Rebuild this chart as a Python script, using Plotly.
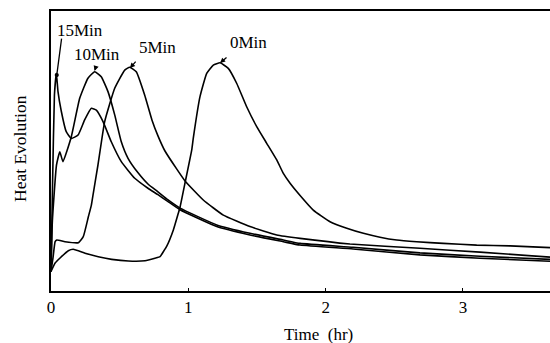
import plotly.graph_objects as go

# Time (hr) and heat evolution (arbitrary units, 0-100)
t_0min = [0.0, 0.03, 0.066, 0.126, 0.162, 0.248, 0.344, 0.442, 0.563, 0.685, 0.757, 0.794, 0.818, 0.843,
          0.891, 0.927, 0.94, 0.976, 1.025, 1.036, 1.085, 1.134, 1.182, 1.231, 1.291, 1.352, 1.425, 1.498,
          1.571, 1.644, 1.692, 1.741, 1.814, 1.91, 2.032, 2.154, 2.275, 2.396, 2.518, 2.663, 2.857, 3.1,
          3.343, 3.634]
h_0min = [7.0, 10.0, 11.8, 14.4, 14.9, 13.5, 12.25, 11.3, 10.7, 10.8, 11.7, 12.25, 14.0, 16.0,
          21.8, 27.75, 30.0, 38.6, 50.4, 54.5, 69.4, 77.75, 80.7, 81.5, 79.5, 74.2, 65.8, 58.7,
          52.75, 46.8, 42.0, 38.5, 34.1, 28.9, 24.75, 22.4, 20.6, 19.2, 18.2, 17.6, 17.0, 16.4,
          16.1, 15.5]

t_5min = [0.0, 0.015, 0.03, 0.042, 0.102, 0.199, 0.235, 0.272, 0.294, 0.308, 0.342, 0.391, 0.464,
          0.537, 0.573, 0.621, 0.682, 0.735, 0.779, 0.83, 0.915, 0.976, 1.109, 1.255, 1.449, 1.644,
          1.814, 2.177, 2.687, 3.124, 3.634]
h_5min = [7.0, 12.0, 17.6, 18.2, 17.6, 17.25, 19.4, 26.5, 30.7, 34.9, 45.0, 60.5, 72.4,
          78.9, 79.9, 78.3, 70.0, 61.1, 55.4, 50.0, 43.6, 39.3, 32.5, 27.1, 23.0, 20.0,
          18.8, 16.8, 15.25, 13.9, 12.1]

t_10min = [0.0, 0.01, 0.04, 0.064, 0.087, 0.148, 0.209, 0.269, 0.318, 0.366, 0.415, 0.464, 0.512,
           0.561, 0.634, 0.706, 0.779, 0.85, 0.94, 1.207, 1.449, 1.692, 1.814, 2.2, 2.687, 3.124, 3.634]
h_10min = [7.0, 25.0, 45.0, 49.75, 46.2, 55.1, 68.8, 76.0, 78.3, 76.5, 71.2, 62.9, 53.3,
           47.4, 42.2, 38.2, 35.4, 32.6, 29.6, 23.6, 20.6, 18.2, 17.0, 15.6, 13.6, 12.4, 11.3]

t_15min = [0.0, 0.012, 0.025, 0.039, 0.051, 0.075, 0.111, 0.148, 0.197, 0.245, 0.294, 0.33, 0.379,
           0.439, 0.512, 0.61, 0.706, 0.779, 0.85, 0.94, 1.207, 1.449, 1.692, 1.814, 2.2, 2.687, 3.124, 3.634]
h_15min = [7.0, 40.0, 70.0, 77.75, 71.2, 64.2, 56.9, 54.5, 55.7, 61.1, 65.25, 64.6, 60.5,
           53.3, 46.2, 40.25, 36.7, 34.4, 32.0, 29.0, 23.0, 20.0, 17.6, 16.4, 15.0, 12.9, 11.7, 10.6]

x_ticks = [0, 1, 2, 3]
x_tick_labels = ["0", "1", "2", "3"]

FONT = "Liberation Serif"
fig = go.Figure()
for t, h in [(t_0min, h_0min), (t_5min, h_5min), (t_10min, h_10min), (t_15min, h_15min)]:
    fig.add_trace(go.Scatter(x=t, y=h, mode="lines",
                             line=dict(color="black", width=1.6, shape="spline", smoothing=0.4),
                             showlegend=False, hoverinfo="skip"))

fig.update_layout(
    width=550, height=343,
    margin=dict(l=51, r=0, t=11, b=52),
    paper_bgcolor="white", plot_bgcolor="white",
    font=dict(family=FONT, color="black", size=16),
    xaxis=dict(range=[0, 3.634], tickvals=x_ticks, ticktext=x_tick_labels, showgrid=False, zeroline=False,
               showline=True, linecolor="black", linewidth=2, mirror=True, ticks="inside", ticklen=3,
               tickcolor="black", tickfont=dict(family=FONT, size=17), fixedrange=True),
    yaxis=dict(range=[0, 100], showticklabels=False, showgrid=False, zeroline=False,
               showline=True, linecolor="black", linewidth=1.5, mirror=False, ticks="", fixedrange=True),
)

fig.add_annotation(text="Time  (hr)", xref="paper", yref="paper", x=(318 - 51) / 499, y=-(335 - 291) / 280,
                   showarrow=False, font=dict(family=FONT, size=17), xanchor="center", yanchor="middle")
fig.add_annotation(text="Heat Evolution", xref="paper", yref="paper", x=-(51 - 20) / 499, y=(291 - 149) / 280,
                   showarrow=False, textangle=-90, font=dict(family=FONT, size=17.5), xanchor="center", yanchor="middle")

labels = [("15Min", 0.211, 92.9), ("10Min", 0.335, 84.3), ("5Min", 0.779, 87.1), ("0Min", 1.435, 88.6)]
for txt, x, y in labels:
    fig.add_annotation(text=txt, x=x, y=y, showarrow=False, font=dict(family=FONT, size=17),
                       xanchor="center", yanchor="middle")

arrows = [(0.042, 77.1, 5, -38, 6), (0.317, 78.6, 2, -6, 2), (0.575, 79.6, 7, -8, 2), (1.231, 81.4, 8, -7, 2)]
for x, y, ax, ay, head in arrows:
    fig.add_annotation(text="", x=x, y=y, ax=ax, ay=ay, showarrow=True, arrowhead=head, arrowsize=0.8,
                       arrowwidth=1.3, arrowcolor="black")

fig.write_html("out.html")
